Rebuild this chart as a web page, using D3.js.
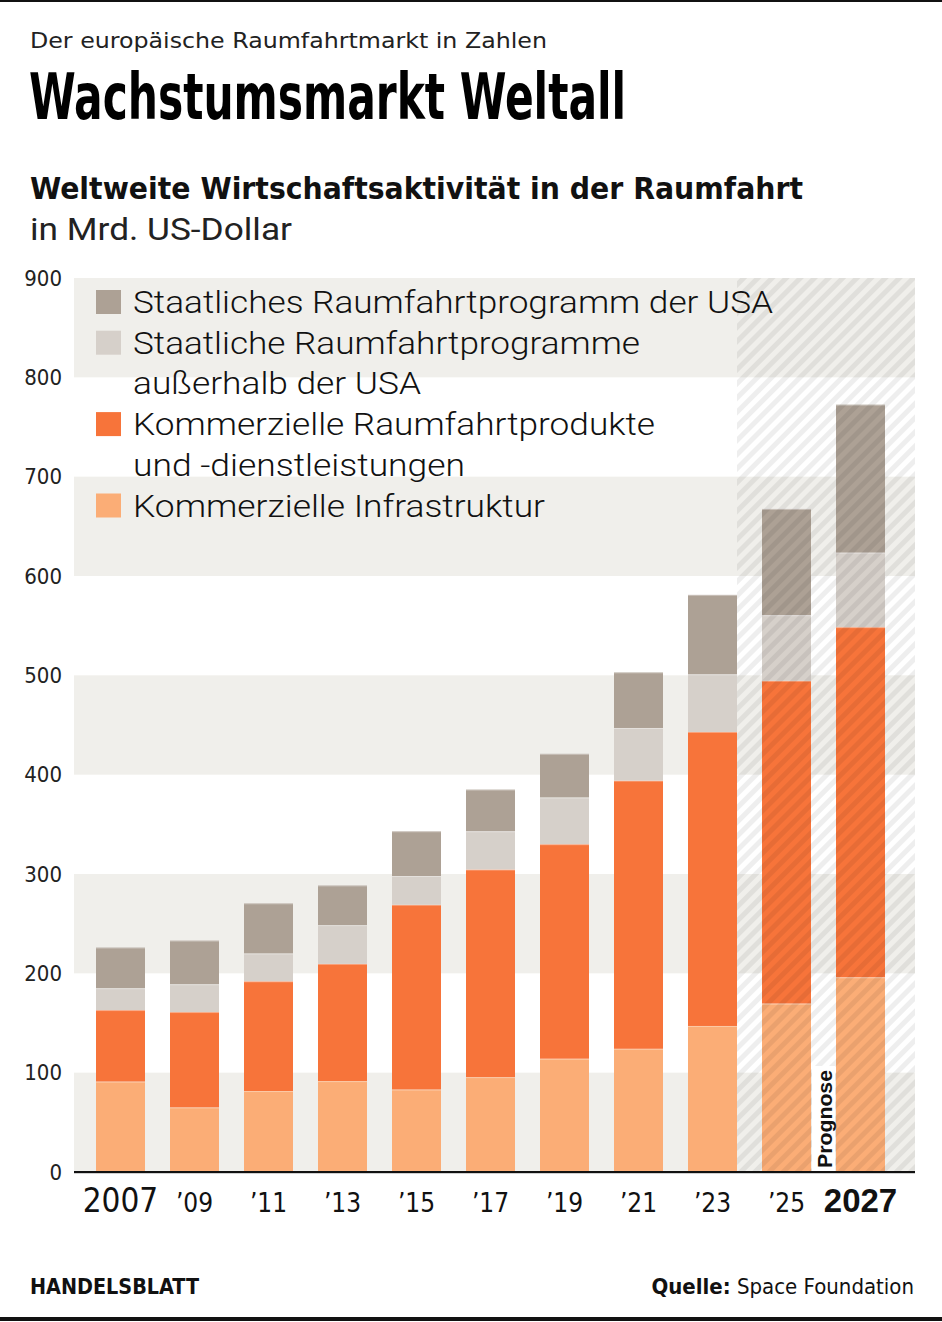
<!DOCTYPE html>
<html><head><meta charset="utf-8">
<script src="https://cdn.jsdelivr.net/npm/d3@7"></script>
<style>
html,body{margin:0;padding:0;background:#fff;}
svg{display:block;}
</style></head>
<body>
<script>
// ---- data ----
const categories = ["2007","’09","’11","’13","’15","’17","’19","’21","’23","’25","2027"];
const seriesNames = ["Kommerzielle Infrastruktur","Kommerzielle Raumfahrtprodukte und -dienstleistungen","Staatliche Raumfahrtprogramme außerhalb der USA","Staatliches Raumfahrtprogramm der USA"];
const infrastruktur = [91, 65, 81.5, 91.5, 83, 95.5, 114, 124, 147, 169.5, 196];
const produkte      = [72, 96, 110.5, 118, 186, 209, 216, 270, 296, 325, 352.5];
const staatlichAusl = [22, 28, 28, 39, 29, 38.5, 47, 53, 58, 66, 75];
const staatlichUSA  = [41, 44, 50.5, 40, 45, 42, 44, 56, 80, 107, 149];
const yTicks = [0,100,200,300,400,500,600,700,800,900];

const colors = ["#fbad76","#f7743a","#d6d0ca","#ada195"];
const FONT = "'Liberation Sans Narrow','DejaVu Sans Condensed','Roboto','Liberation Sans',sans-serif";
const LFONT = "'Roboto','Liberation Sans',sans-serif";

const W = 942, H = 1322;
const svg = d3.select("body").append("svg").attr("width", W).attr("height", H);

// borders
svg.append("rect").attr("x",0).attr("y",0).attr("width",W).attr("height",2).attr("fill","#111");
svg.append("rect").attr("x",0).attr("y",1317).attr("width",W).attr("height",4).attr("fill","#111");

// headings
svg.append("text").attr("x",30).attr("y",48).attr("font-family",FONT).attr("font-size",22)
  .attr("fill","#222").attr("textLength",517).attr("lengthAdjust","spacingAndGlyphs")
  .text("Der europäische Raumfahrtmarkt in Zahlen");
svg.append("text").attr("x",29).attr("y",119).attr("font-family",FONT).attr("font-size",64)
  .attr("font-weight","bold").attr("fill","#000").attr("textLength",597).attr("lengthAdjust","spacingAndGlyphs")
  .text("Wachstumsmarkt Weltall");
svg.append("text").attr("x",30).attr("y",199).attr("font-family",FONT).attr("font-size",30)
  .attr("font-weight","bold").attr("fill","#111").attr("textLength",773).attr("lengthAdjust","spacingAndGlyphs")
  .text("Weltweite Wirtschaftsaktivität in der Raumfahrt");
svg.append("text").attr("x",30).attr("y",240).attr("font-family",LFONT).attr("font-size",31)
  .attr("fill","#222").attr("textLength",262).attr("lengthAdjust","spacingAndGlyphs")
  .text("in Mrd. US-Dollar");

// scales
const plotL = 74, plotR = 915;
const y = d3.scaleLinear().domain([0,900]).range([1172,278]);
const x = d3.scaleBand().domain(categories).range([96,885]).paddingInner(25/74).paddingOuter(0);

// background bands
const bands = d3.range(0,900,200);
svg.append("g").selectAll("rect").data(bands).join("rect")
  .attr("x",plotL).attr("width",plotR-plotL)
  .attr("y",d=>y(d+100)).attr("height",d=>y(d)-y(d+100))
  .attr("fill","#f0efeb");

// y tick labels
svg.append("g").selectAll("text").data(yTicks).join("text")
  .attr("x",62).attr("y",d=>y(d)).attr("dy","0.35em").attr("text-anchor","end")
  .attr("font-family",FONT).attr("font-size",22).attr("fill","#222").text(d=>d);

// stacked bars
const rows = categories.map((c,i)=>({cat:c, s0:infrastruktur[i], s1:produkte[i], s2:staatlichAusl[i], s3:staatlichUSA[i]}));
const stack = d3.stack().keys(["s0","s1","s2","s3"])(rows);
svg.append("g").selectAll("g").data(stack).join("g").attr("fill",(d,i)=>colors[i])
  .selectAll("rect").data(d=>d).join("rect")
  .attr("x",d=>x(d.data.cat)).attr("width",x.bandwidth())
  .attr("y",d=>y(d[1])).attr("height",d=>y(d[0])-y(d[1]));
// thin segment top lines
svg.append("g").selectAll("g").data(stack).join("g")
  .selectAll("rect").data(d=>d).join("rect")
  .attr("x",d=>x(d.data.cat)).attr("width",x.bandwidth())
  .attr("y",d=>y(d[1])).attr("height",1)
  .attr("fill","#fff").attr("opacity",0.35);

// forecast hatch
const defs = svg.append("defs");
const pat = defs.append("pattern").attr("id","hatch").attr("patternUnits","userSpaceOnUse")
  .attr("width",10).attr("height",10).attr("patternTransform","rotate(45)");
pat.append("rect").attr("x",0).attr("y",0).attr("width",5).attr("height",10).attr("fill","rgba(0,0,0,0.065)");
const hx0 = x(categories[8]) + x.bandwidth();
svg.append("rect").attr("x",hx0).attr("y",y(900)).attr("width",plotR-hx0).attr("height",y(0)-y(900))
  .attr("fill","url(#hatch)");

// Prognose label
const gapX = x(categories[9]) + x.bandwidth();
const gapW = x(categories[10]) - gapX;
svg.append("rect").attr("x",gapX+1).attr("y",1066).attr("width",gapW-2).attr("height",y(0)-1066).attr("fill","#fff");
svg.append("text").attr("transform",`translate(${gapX+gapW/2+8},1168) rotate(-90)`)
  .attr("font-family","'Liberation Sans','Arimo',sans-serif").attr("font-weight","bold").attr("font-size",21)
  .attr("textLength",98).attr("lengthAdjust","spacingAndGlyphs")
  .attr("fill","#111").text("Prognose");

// axis line
svg.append("rect").attr("x",plotL).attr("y",1171).attr("width",plotR-plotL).attr("height",2.2).attr("fill","#111");

// x labels
svg.append("g").selectAll("text").data(categories).join("text")
  .attr("x",d=>x(d)+x.bandwidth()/2).attr("y",1212).attr("text-anchor","middle")
  .attr("font-family",(d,i)=> i===10 ? "'Liberation Sans',sans-serif" : FONT)
  .attr("font-size",(d,i)=> i===0||i===10 ? 33 : 26)
  .attr("font-weight",(d,i)=> i===10 ? "bold" : "normal")
  .attr("fill","#111").text(d=>d);

// legend
const legendItems = [
  {c:colors[3], lines:[["Staatliches Raumfahrtprogramm der USA",640]]},
  {c:colors[2], lines:[["Staatliche Raumfahrtprogramme",507],["außerhalb der USA",288]]},
  {c:colors[1], lines:[["Kommerzielle Raumfahrtprodukte",522],["und -dienstleistungen",332]]},
  {c:colors[0], lines:[["Kommerzielle Infrastruktur",412]]}
];
let ly = 313;
const lg = svg.append("g");
legendItems.forEach(it=>{
  lg.append("rect").attr("x",96).attr("y",ly-23).attr("width",25).attr("height",24).attr("fill",it.c);
  it.lines.forEach((ln,j)=>{
    lg.append("text").attr("x",133).attr("y",ly+j*40.7).attr("font-family",LFONT).attr("font-size",32)
      .attr("font-weight",300).attr("textLength",ln[1]).attr("lengthAdjust","spacingAndGlyphs")
      .attr("fill","#111").text(ln[0]);
  });
  ly += it.lines.length*40.7;
});

// footer
svg.append("text").attr("x",30).attr("y",1294).attr("font-family",FONT).attr("font-weight","bold")
  .attr("font-size",22).attr("textLength",169).attr("lengthAdjust","spacingAndGlyphs")
  .attr("fill","#111").text("HANDELSBLATT");
const src = svg.append("text").attr("x",914).attr("y",1294).attr("text-anchor","end")
  .attr("font-family",FONT).attr("font-size",22).attr("fill","#111");
src.append("tspan").attr("font-weight","bold").text("Quelle:");
src.append("tspan").text(" Space Foundation");
</script>
</body></html>
